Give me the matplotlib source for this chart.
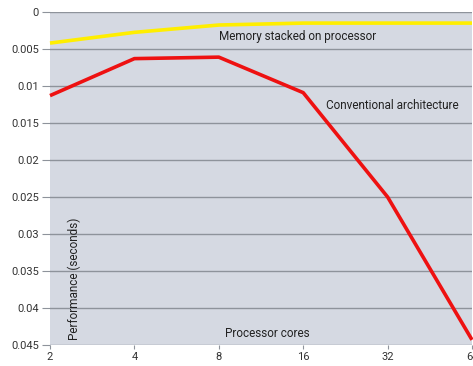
import matplotlib
matplotlib.use("Agg")
import matplotlib.pyplot as plt

cores = [2, 4, 8, 16, 32, 64]
stacked = [0.0042, 0.00275, 0.00176, 0.0015, 0.0015, 0.0015]
conventional = [0.0113, 0.0063, 0.0061, 0.0109, 0.0250, 0.0443]
yticks = [0, 0.005, 0.01, 0.015, 0.02, 0.025, 0.03, 0.035, 0.04, 0.045]
ytick_labels = ["0", "0.005", "0.01", "0.015", "0.02", "0.025", "0.03", "0.035", "0.04", "0.045"]
xtick_labels = ["2", "4", "8", "16", "32", "64"]

plt.rcParams['font.family'] = ['Roboto', 'DejaVu Sans']

fig = plt.figure(figsize=(4.73, 3.66), dpi=100)
ax = fig.add_axes([50/473, 21/366, 422/473, 333/366])
ax.set_facecolor('#d5d9e2')
ax.set_xscale('log', base=2)
ax.set_xlim(2, 64)
ax.set_ylim(0.045, 0)

ax.set_yticks(yticks)
ax.set_yticklabels(ytick_labels)
ax.set_xticks(cores)
ax.set_xticklabels(xtick_labels)
ax.minorticks_off()
ax.grid(axis='y', color='#8e939b', linewidth=1.0)
ax.set_axisbelow(True)
for s in ax.spines.values():
    s.set_visible(False)
ax.tick_params(axis='y', length=6, color='#8e939b', labelsize=8, labelcolor='#333333', pad=2)
ax.tick_params(axis='x', length=3, color='#8e939b', labelsize=8, labelcolor='#333333', pad=2)

ax.plot(cores, stacked, color='#ffee00', linewidth=2.6, solid_capstyle='butt', clip_on=False)
ax.plot(cores, conventional, color='#ee1111', linewidth=2.6, solid_capstyle='butt', clip_on=False)

ax.text(0.40, 0.925, "Memory stacked on processor", transform=ax.transAxes,
        fontsize=8.5, color='#222222', va='center', ha='left')
ax.text(0.655, 0.718, "Conventional architecture", transform=ax.transAxes,
        fontsize=8.5, color='#222222', va='center', ha='left')
ax.text(0.057, 0.2, "Performance (seconds)", transform=ax.transAxes,
        fontsize=8.5, color='#222222', va='center', ha='center', rotation=90)
ax.text(0.515, 0.036, "Processor cores", transform=ax.transAxes,
        fontsize=8.5, color='#222222', va='center', ha='center')

fig.savefig("out.png", dpi=100)
